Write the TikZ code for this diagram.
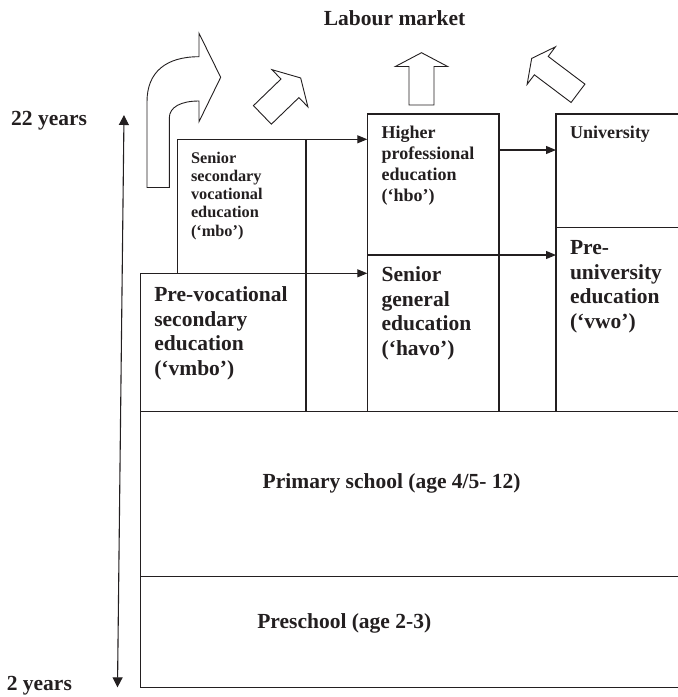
\documentclass[tikz,border=0pt]{standalone}
\usepackage{fontspec}
\setmainfont{Liberation Serif}
\usetikzlibrary{arrows.meta}
\definecolor{ink}{RGB}{35,31,32}
\newcommand{\blockarrow}[7]{%
  \begin{scope}[shift={(#1,#2)},rotate=#3]
    \draw[blk] (0,{#5/2}) -- (#4,{#5/2}) -- (#4,{#6/2}) -- ({#4+#7},0)
      -- (#4,{-#6/2}) -- (#4,{-#5/2}) -- (0,{-#5/2}) -- cycle;
  \end{scope}}
\begin{document}
\begin{tikzpicture}[x=1pt,y=-1pt,
  box/.style={draw=ink, line width=1.1pt, rectangle, inner sep=0pt, outer sep=0pt, anchor=north west},
  lbl/.style={inner sep=0pt, outer sep=0pt, anchor=north west, align=left, text=ink},
  txt/.style={inner sep=0pt, outer sep=0pt, text=ink},
  big/.style={font=\bfseries\fontsize{21.5}{24.6}\selectfont},
  midf/.style={font=\bfseries\fontsize{18}{21}\selectfont},
  sml/.style={font=\bfseries\fontsize{16.3}{18.3}\selectfont},
  conn/.style={draw=ink, line width=1.1pt, -{Triangle[length=10pt,width=8pt]}},
  agearrow/.style={draw=ink, line width=1.1pt, {Triangle[length=10pt,width=10pt]}-{Triangle[length=10pt,width=10pt]}},
  blk/.style={draw=ink, line width=0.9pt, line join=miter, fill=white}]
\useasboundingbox (0,0) rectangle (678,697);
\begin{scope}
\clip (0,0) rectangle (678,697);
% boxes
\node[box, minimum width=128.3pt, minimum height=134pt]   (mbo)  at (177.7,139.3) {};
\node[box, minimum width=165.3pt, minimum height=138.4pt] (vmbo) at (140.7,273.3) {};
\node[box, minimum width=131.7pt, minimum height=141pt]   (hbo)  at (367.3,114) {};
\node[box, minimum width=131.7pt, minimum height=156.7pt] (havo) at (367.3,255) {};
\node[box, minimum width=134pt,   minimum height=113.3pt] (univ) at (556,114) {};
\node[box, minimum width=134pt,   minimum height=184.4pt] (vwo)  at (556,227.3) {};
\node[box, minimum width=549.3pt, minimum height=164.8pt] (prim) at (140.7,411.7) {};
\node[box, minimum width=549.3pt, minimum height=110.8pt] (pre)  at (140.7,576.5) {};
% connectors
\draw[conn] (mbo.north east) -- (mbo.north east -| hbo.west);
\draw[conn] (vmbo.north east) -- (vmbo.north east -| havo.west);
\draw[conn] ([yshift=-36pt]hbo.north east) -- ([yshift=-36pt]hbo.north east -| univ.west);
\draw[conn] (havo.north east) -- (havo.north east -| vwo.west);
% labels
\node[lbl, sml]  (tmbo)  at (191,151.7) {Senior\\secondary\\vocational\\education\\(‘mbo’)};
\node[lbl, big]  (tvmbo) at (154.3,286.7) {Pre-vocational\\secondary\\education\\(‘vmbo’)};
\node[lbl, midf] (thbo)  at (381.7,126) {Higher\\professional\\education\\(‘hbo’)};
\node[lbl, big]  (thavo) at (381.7,266.7) {Senior\\general\\education\\(‘havo’)};
\node[lbl, midf] (tuniv) at (570,126) {University};
\node[lbl, big]  (tvwo)  at (570,240.7) {Pre-\\university\\education\\(‘vwo’)};
\node[txt, big, anchor=base west] (tprim) at (262.7,488.3) {Primary school (age 4/5- 12)};
\node[txt, big, anchor=base west] (tpre)  at (257.3,628.3) {Preschool (age 2-3)};
\end{scope}
% title and ages
\node[txt, big, anchor=base] (labour) at (394.6,25) {Labour market};
\node[txt, big, anchor=base west] (y22) at (11.2,125.7) {22 years};
\node[txt, big, anchor=base west] (y2)  at (6.8,690.7) {2 years};
\coordinate (agetop) at (124,115);
\coordinate (agebot) at (117.5,687.3);
\draw[agearrow] (agebot) -- (agetop);
% block arrows to the labour market
\draw[blk] (147,187.5) -- (147,101.7) .. controls (147,72) and (166,56.7) .. (199,56.7)
  -- (199,33.3) -- (220.7,77.3) -- (199,121.7) -- (199,101)
  .. controls (181,101) and (169.3,107) .. (169.3,118) -- (169.3,187.5) -- cycle;
\blockarrow{262.4}{114.9}{44}{38.3}{25.8}{51.8}{14.9}
\blockarrow{421.5}{105}{90}{38.5}{25}{52.3}{13.8}
\blockarrow{578}{93.3}{143}{46}{23}{47}{12}
\end{tikzpicture}
\end{document}
